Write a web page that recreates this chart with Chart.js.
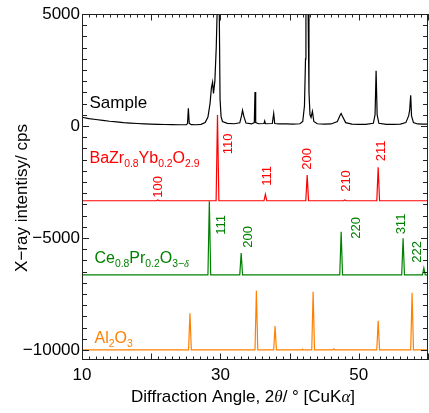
<!DOCTYPE html>
<html><head><meta charset="utf-8">
<script src="https://cdn.jsdelivr.net/npm/chart.js@4/dist/chart.umd.min.js"></script>
<style>html,body{margin:0;padding:0;background:#fff;overflow:hidden}</style>
</head><body>
<canvas id="c" width="429" height="413" style="display:block;width:429px;height:413px"></canvas>
<script>
// ---- data: [2theta (deg), intensity (cps, offset)] ----
const sample = [[10,390],[11,330],[12,290],[13,250],[14,210],[15,180],[16,150],[17,130],[18,110],[19,95],[20,85],[21,75],[22,65],[23,60],[24,55],[25.1,55],[25.25,120],[25.37,790],[25.5,120],[25.8,60],[26.5,55],[27.2,70],[27.8,150],[28.2,400],[28.5,1000],[28.7,1700],[28.87,1950],[29.0,1450],[29.2,2000],[29.4,3500],[29.52,5000],[29.6,16000],[29.75,16000],[29.84,5000],[29.95,1200],[30.1,400],[30.3,200],[31,120],[32,100],[32.8,140],[33.05,450],[33.2,700],[33.4,420],[33.7,130],[34.5,90],[34.9,150],[35.0,1520],[35.1,150],[35.5,100],[36.3,110],[36.4,220],[36.5,100],[37.5,110],[37.7,560],[37.85,110],[38.5,90],[39.5,90],[40.5,85],[41.5,100],[41.9,200],[42.15,900],[42.3,3000],[42.36,5000],[42.45,16000],[42.6,16000],[42.68,5000],[42.8,1500],[42.95,500],[43.1,380],[43.3,650],[43.5,200],[44,100],[45,85],[46,90],[46.9,200],[47.3,480],[47.45,560],[47.6,460],[48.1,150],[49,85],[50,75],[51,75],[52.1,120],[52.35,500],[52.5,2460],[52.65,500],[52.9,120],[54,75],[55,75],[56,85],[56.8,150],[57.2,450],[57.35,700],[57.5,1370],[57.62,450],[57.9,150],[58.5,90],[59.3,80],[60,80]];
const bzy = [[10,-3340],[20.75,-3340],[20.95,-3300],[21.15,-3340],[29.38,-3340],[29.58,490],[29.78,-3340],[36.3,-3340],[36.5,-3050],[36.7,-3340],[42.34,-3340],[42.54,-2190],[42.74,-3340],[47.8,-3340],[47.98,-3300],[48.16,-3340],[52.6,-3340],[52.8,-1845],[53.0,-3340],[60,-3340]];
const cpo = [[10,-6650],[28.2,-6650],[28.4,-3360],[28.6,-6650],[32.8,-6650],[33.0,-5670],[33.2,-6650],[47.25,-6650],[47.45,-4720],[47.65,-6650],[56.2,-6650],[56.4,-5015],[56.6,-6650],[59.2,-6650],[59.4,-6340],[59.6,-6650],[60,-6650]];
const alumina = [[10,-10000],[25.4,-10000],[25.6,-8364],[25.8,-10000],[35.0,-10000],[35.2,-7355],[35.4,-10000],[37.7,-10000],[37.9,-8930],[38.1,-10000],[41.8,-10000],[41.9,-9975],[42.0,-10000],[43.2,-10000],[43.4,-7400],[43.6,-10000],[46.25,-10000],[46.4,-9950],[46.55,-10000],[52.6,-10000],[52.8,-8694],[53.0,-10000],[57.5,-10000],[57.7,-7444],[57.9,-10000],[60,-10000]];

const xTickLabels = [10, 30, 50];
const yTickLabels = [5000, 0, -5000, -10000];

// reflection labels
const bzyHkl = ['100','110','111','200','210','211'];
const cpoHkl = ['111','200','220','311','222'];
// ---- annotation anchors (data coords) ----
const bzyHklPos = [[21.04,-2724],[31.14,-804],[36.77,-2233],[42.54,-1474],[48.17,-2457],[53.2,-1117]];
const cpoHklPos = [[30.13,-4421],[34.03,-4957],[49.6,-4555],[56.1,-4377],[58.41,-5627]];

const RED = '#ff0000', GREEN = '#008000', ORANGE = '#ff8000';
const FAM = '"Liberation Sans", Arial, sans-serif';
const SERIF = '"Liberation Serif", "DejaVu Serif", serif';

const pts = a => a.map(p => ({x: p[0], y: p[1]}));
const ds = (a, c) => ({data: pts(a), showLine: true, borderColor: c, borderWidth: 1.2, pointRadius: 0, tension: 0, fill: false});

function richText(ctx, segs, x, y, size, color, center) {
  const sub = size * 0.65, off = size * 0.25;
  const parts = segs.map(([t, k]) => {
    const s = k.includes('s') ? sub : size;
    const f = (k.includes('i') ? 'italic ' + s + 'px ' + SERIF : s + 'px ' + FAM);
    ctx.font = f;
    return {t, f, dy: k.includes('s') ? off : 0, w: ctx.measureText(t).width};
  });
  const total = parts.reduce((a, p) => a + p.w, 0);
  let cx = center ? x - total / 2 : x;
  ctx.fillStyle = color; ctx.textAlign = 'left'; ctx.textBaseline = 'alphabetic';
  for (const p of parts) { ctx.font = p.f; ctx.fillText(p.t, cx, y + p.dy); cx += p.w; }
}

const deco = {
  id: 'deco',
  afterDraw(chart) {
    const {ctx, chartArea: a, scales: {x, y}} = chart;
    ctx.save();
    // frame + inward ticks
    ctx.strokeStyle = '#222'; ctx.lineWidth = 1;
    ctx.beginPath();
    for (let v = 10; v <= 60; v += 1) {
      const px = Math.round(x.getPixelForValue(v)) + 0.5;
      const L = v % 10 === 0 ? 6.5 : 3.5;
      ctx.moveTo(px, a.bottom); ctx.lineTo(px, a.bottom - L);
      ctx.moveTo(px, a.top); ctx.lineTo(px, a.top + L);
    }
    for (let v = -10000; v <= 5000; v += 500) {
      const py = Math.round(y.getPixelForValue(v)) + 0.5;
      const L = v % 5000 === 0 ? 7 : 5;
      ctx.moveTo(a.left, py); ctx.lineTo(a.left + L, py);
      ctx.moveTo(a.right, py); ctx.lineTo(a.right - L, py);
    }
    ctx.stroke();
    ctx.strokeRect(Math.round(a.left) + 0.5, Math.round(a.top) + 0.5, Math.round(a.right - a.left) - 1, Math.round(a.bottom - a.top) - 1);

    // reflection labels (rotated)
    const rot = (t, p, c) => {
      ctx.save();
      ctx.translate(x.getPixelForValue(p[0]), y.getPixelForValue(p[1]));
      ctx.rotate(-Math.PI / 2);
      ctx.fillStyle = c; ctx.font = '13px ' + FAM; ctx.textAlign = 'center'; ctx.textBaseline = 'middle';
      ctx.fillText(t, 0, 0);
      ctx.restore();
    };
    bzyHkl.forEach((t, i) => rot(t, bzyHklPos[i], RED));
    cpoHkl.forEach((t, i) => rot(t, cpoHklPos[i], GREEN));

    // phase names
    const P = (xv, yv) => [x.getPixelForValue(xv), y.getPixelForValue(yv)];
    let q;
    q = P(11.08, 803);  richText(ctx, [['Sample','n']], q[0], q[1], 17, '#000');
    q = P(11.08, -1666); richText(ctx, [['BaZr','n'],['0.8','s'],['Yb','n'],['0.2','s'],['O','n'],['2.9','s']], q[0], q[1], 16, RED);
    q = P(11.8, -6104); richText(ctx, [['Ce','n'],['0.8','s'],['Pr','n'],['0.2','s'],['O','n'],['3\u2212','s'],['\u03b4','si']], q[0], q[1], 16, GREEN);
    q = P(11.8, -9703); richText(ctx, [['Al','n'],['2','s'],['O','n'],['3','s']], q[0], q[1], 16, ORANGE);

    // axis titles
    richText(ctx, [['Diffraction Angle, 2','n'],['\u03b8','i'],['/ \u00b0 [CuK','n'],['\u03b1','i'],[']','n']], 243, 402, 17, '#000', true);
    ctx.save();
    ctx.translate(27, 198); ctx.rotate(-Math.PI / 2);
    richText(ctx, [['X\u2212ray intentisy/ cps','n']], 0, 0, 17, '#000', true);
    ctx.restore();
    ctx.restore();
  }
};

new Chart(document.getElementById('c'), {
  type: 'scatter',
  data: { datasets: [ds(sample, '#000'), ds(bzy, RED), ds(cpo, GREEN), ds(alumina, ORANGE)] },
  options: {
    responsive: false, animation: false, devicePixelRatio: 1,
    layout: { padding: { top: 14, right: 1, left: 0, bottom: 0 } },
    plugins: { legend: { display: false }, tooltip: { enabled: false } },
    scales: {
      x: {
        type: 'linear', min: 10, max: 60,
        grid: { display: false, drawTicks: false }, border: { display: false },
        afterBuildTicks: s => { s.ticks = xTickLabels.map(v => ({ value: v })); },
        ticks: { color: '#000', font: { family: FAM, size: 17 }, padding: 5, maxRotation: 0, autoSkip: false },
        afterFit: s => { s.height = 53; }
      },
      y: {
        type: 'linear', min: -10450, max: 5000,
        grid: { display: false, drawTicks: false }, border: { display: false },
        afterBuildTicks: s => { s.ticks = yTickLabels.map(v => ({ value: v })); },
        ticks: { color: '#000', font: { family: FAM, size: 17 }, padding: 2, autoSkip: false,
                 callback: v => (v < 0 ? '\u2212' + Math.abs(v) : String(v)) },
        afterFit: s => { s.width = 82; }
      }
    }
  },
  plugins: [deco]
});
</script>
</body></html>
